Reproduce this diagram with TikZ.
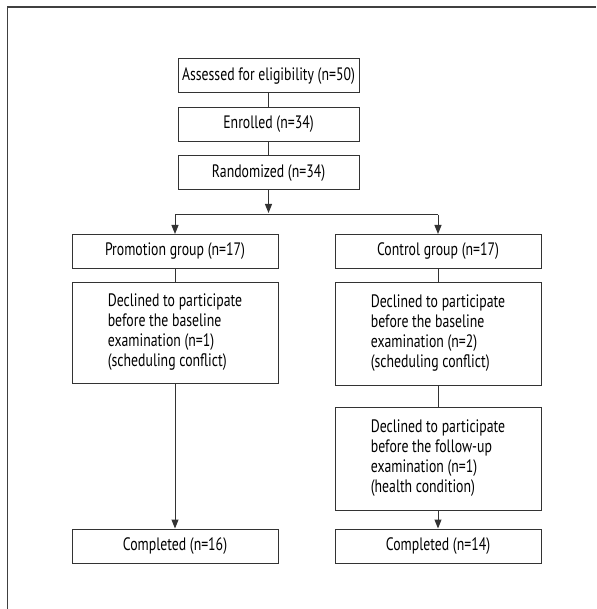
\documentclass[tikz,border=0pt]{standalone}
\usepackage{fontspec}
\setmainfont[FakeStretch=0.765]{PT Sans}
\usetikzlibrary{arrows.meta}

\begin{document}
\begin{tikzpicture}[x = 1pt, y = -1pt, every node/.style = {font = \fontsize{18}{20}\selectfont},
        box/.style = {draw = black!80, line width = 1pt, minimum height = 34pt, inner sep = 0pt},
        wide/.style = {box, minimum width = 206pt},
        note/.style = {wide, align = left},
        link/.style = {draw = black!80, line width = 1pt},
        arrow/.style = {link, -{Triangle[width = 7pt, length = 9pt]}}]
        \useasboundingbox (0, 0) rectangle (596, 609);
        \draw[line width = 1.2pt, black!75] (7.5, 609) -- (7.5, 7) -- (596, 7);

        \node[box, minimum width = 181pt] (assess) at (268.5, 76) {Assessed for eligibility (n=50)};
        \node[box, minimum width = 181pt] (enroll) at (268.5, 124.5) {Enrolled (n=34)};
        \node[box, minimum width = 181pt] (random) at (268.5, 173) {Randomized (n=34)};

        \node[wide] (promo) at (175, 251.5) {Promotion group (n=17)};
        \node[wide] (control) at (438, 251.5) {Control group (n=17)};

        \node[note, minimum height = 101pt] (decl1) at (175, 332.5)
            {Declined to participate\\before the baseline\\examination (n=1)\\(scheduling conflict)};
        \node[note, minimum height = 103pt] (decl2) at (438, 333.5)
            {Declined to participate\\before the baseline\\examination (n=2)\\(scheduling conflict)};
        \node[note, minimum height = 103pt] (decl3) at (438, 458.5)
            {Declined to participate\\before the follow-up\\examination (n=1)\\(health condition)};

        \node[wide] (done1) at (175, 546) {Completed (n=16)};
        \node[wide] (done2) at (438, 546) {Completed (n=14)};

        \foreach \a/\b in {assess/enroll, enroll/random, promo/decl1, control/decl2, decl2/decl3}{
                \draw[link] (\a) -- (\b);
            }

        \coordinate (split) at (268.5, 215);
        \draw[arrow, shorten > = 2pt] (random) -- (split);
        \draw[link] (split -| promo) -- (split -| control);
        \draw[arrow] (split -| promo) -- (promo);
        \draw[arrow] (split -| control) -- (control);

        \draw[arrow] (decl1) -- (done1);
        \draw[arrow] (decl3) -- (done2);
    \end{tikzpicture}
\end{document}
